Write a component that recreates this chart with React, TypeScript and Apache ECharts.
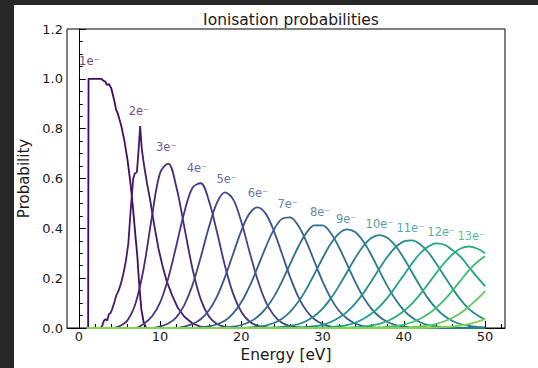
import React, { useEffect, useRef } from "react";
import * as echarts from "echarts";

// ---- data ----
const curveNames = ["1e⁻", "2e⁻", "3e⁻", "4e⁻", "5e⁻", "6e⁻", "7e⁻", "8e⁻", "9e⁻", "10e⁻", "11e⁻", "12e⁻", "13e⁻", "14e⁻", "15e⁻", "16e⁻"];

// 1e- (irregular energies)
const energy1 = [1.15, 1.2, 2.8, 3.0, 3.3, 3.45, 3.7, 4.0, 4.4, 4.6, 4.8, 5.2, 5.6, 6.0, 6.4, 6.7, 7.0, 7.2, 7.4, 7.7, 8.0, 8.3, 50];
const prob1 = [0, 1.0, 1.0, 0.993, 0.988, 0.975, 0.979, 0.962, 0.908, 0.875, 0.861, 0.815, 0.754, 0.674, 0.57, 0.47, 0.36, 0.29, 0.19, 0.075, 0.02, 0, 0];

// 2e- (irregular energies)
const energy2 = [1, 2.7, 2.9, 3.1, 3.3, 3.5, 3.7, 3.9, 4.1, 4.4, 4.6, 4.9, 5.2, 5.5, 5.8, 6.1, 6.4, 6.7, 6.9, 7.15, 7.35, 7.55, 7.75, 8.0, 8.4, 8.8, 9.3, 9.8, 10.3, 10.8, 11.5, 12.2, 13, 14, 15, 16, 50];
const prob2 = [0, 0, 0.01, 0.03, 0.035, 0.03, 0.055, 0.06, 0.075, 0.105, 0.13, 0.15, 0.18, 0.22, 0.27, 0.34, 0.48, 0.6, 0.62, 0.625, 0.71, 0.81, 0.72, 0.66, 0.58, 0.51, 0.41, 0.32, 0.25, 0.19, 0.13, 0.08, 0.045, 0.018, 0.005, 0, 0];

// 3e- .. 16e- on the energy grid 1..50 eV
const energyGrid = [
  1, 2, 3, 4, 5, 6, 7, 8, 9, 10,
  11, 12, 13, 14, 15, 16, 17, 18, 19, 20,
  21, 22, 23, 24, 25, 26, 27, 28, 29, 30,
  31, 32, 33, 34, 35, 36, 37, 38, 39, 40,
  41, 42, 43, 44, 45, 46, 47, 48, 49, 50,
];
const prob3 = [
  0, 0, 0, 0, 0.007, 0.031, 0.1, 0.242, 0.446, 0.622,
  0.66, 0.567, 0.403, 0.237, 0.116, 0.047, 0.016, 0.004, 0, 0,
  0, 0, 0, 0, 0, 0, 0, 0, 0, 0,
  0, 0, 0, 0, 0, 0, 0, 0, 0, 0,
  0, 0, 0, 0, 0, 0, 0, 0, 0, 0,
];
const prob4 = [
  0, 0, 0, 0, 0, 0, 0, 0.017, 0.046, 0.102,
  0.199, 0.33, 0.466, 0.563, 0.581, 0.512, 0.386, 0.248, 0.137, 0.065,
  0.026, 0.009, 0.003, 0, 0, 0, 0, 0, 0, 0,
  0, 0, 0, 0, 0, 0, 0, 0, 0, 0,
  0, 0, 0, 0, 0, 0, 0, 0, 0, 0,
];
const prob5 = [
  0, 0, 0, 0, 0, 0, 0, 0, 0, 0.006,
  0.018, 0.043, 0.093, 0.173, 0.283, 0.403, 0.502, 0.544, 0.516, 0.426,
  0.307, 0.194, 0.106, 0.051, 0.021, 0.008, 0.003, 0, 0, 0,
  0, 0, 0, 0, 0, 0, 0, 0, 0, 0,
  0, 0, 0, 0, 0, 0, 0, 0, 0, 0,
];
const prob6 = [
  0, 0, 0, 0, 0, 0, 0, 0, 0, 0,
  0, 0, 0.006, 0.016, 0.035, 0.07, 0.126, 0.205, 0.298, 0.39,
  0.459, 0.484, 0.459, 0.39, 0.298, 0.205, 0.126, 0.07, 0.035, 0.016,
  0.006, 0.002, 0, 0, 0, 0, 0, 0, 0, 0,
  0, 0, 0, 0, 0, 0, 0, 0, 0, 0,
];
const prob7 = [
  0, 0, 0, 0, 0, 0, 0, 0, 0, 0,
  0, 0, 0, 0, 0.003, 0.006, 0.015, 0.03, 0.059, 0.103,
  0.166, 0.243, 0.324, 0.394, 0.438, 0.444, 0.411, 0.347, 0.267, 0.187,
  0.12, 0.07, 0.038, 0.018, 0.008, 0.003, 0, 0, 0, 0,
  0, 0, 0, 0, 0, 0, 0, 0, 0, 0,
];
const prob8 = [
  0, 0, 0, 0, 0, 0, 0, 0, 0, 0,
  0, 0, 0, 0, 0, 0, 0, 0.002, 0.005, 0.012,
  0.024, 0.045, 0.078, 0.125, 0.186, 0.256, 0.325, 0.381, 0.412, 0.412,
  0.381, 0.325, 0.256, 0.186, 0.125, 0.078, 0.045, 0.024, 0.012, 0.005,
  0.002, 0, 0, 0, 0, 0, 0, 0, 0, 0,
];
const prob9 = [
  0, 0, 0, 0, 0, 0, 0, 0, 0, 0,
  0, 0, 0, 0, 0, 0, 0, 0, 0, 0,
  0.002, 0.005, 0.01, 0.02, 0.037, 0.065, 0.104, 0.156, 0.217, 0.28,
  0.338, 0.379, 0.396, 0.385, 0.348, 0.293, 0.229, 0.167, 0.113, 0.071,
  0.042, 0.023, 0.012, 0.006, 0.003, 0, 0, 0, 0, 0,
];
const prob10 = [
  0, 0, 0, 0, 0, 0, 0, 0, 0, 0,
  0, 0, 0, 0, 0, 0, 0, 0, 0, 0,
  0, 0, 0, 0.002, 0.004, 0.008, 0.015, 0.028, 0.048, 0.078,
  0.118, 0.168, 0.224, 0.28, 0.328, 0.361, 0.373, 0.361, 0.328, 0.28,
  0.224, 0.168, 0.118, 0.078, 0.048, 0.028, 0.015, 0.008, 0.004, 0.002,
];
const prob11 = [
  0, 0, 0, 0, 0, 0, 0, 0, 0, 0,
  0, 0, 0, 0, 0, 0, 0, 0, 0, 0,
  0, 0, 0, 0, 0, 0, 0.002, 0.004, 0.007, 0.013,
  0.024, 0.041, 0.065, 0.098, 0.139, 0.188, 0.239, 0.287, 0.325, 0.348,
  0.352, 0.336, 0.304, 0.258, 0.208, 0.158, 0.113, 0.077, 0.052, 0.034,
];
const prob12 = [
  0, 0, 0, 0, 0, 0, 0, 0, 0, 0,
  0, 0, 0, 0, 0, 0, 0, 0, 0, 0,
  0, 0, 0, 0, 0, 0, 0, 0, 0, 0.002,
  0.003, 0.007, 0.012, 0.021, 0.036, 0.057, 0.086, 0.122, 0.166, 0.213,
  0.259, 0.299, 0.327, 0.34, 0.334, 0.312, 0.285, 0.245, 0.205, 0.168,
];
const prob13 = [
  0, 0, 0, 0, 0, 0, 0, 0, 0, 0,
  0, 0, 0, 0, 0, 0, 0, 0, 0, 0,
  0, 0, 0, 0, 0, 0, 0, 0, 0, 0,
  0, 0, 0.001, 0.003, 0.005, 0.01, 0.017, 0.028, 0.045, 0.068,
  0.098, 0.135, 0.177, 0.221, 0.262, 0.296, 0.319, 0.327, 0.319, 0.3,
];
const prob14 = [
  0, 0, 0, 0, 0, 0, 0, 0, 0, 0,
  0, 0, 0, 0, 0, 0, 0, 0, 0, 0,
  0, 0, 0, 0, 0, 0, 0, 0, 0, 0,
  0, 0, 0, 0, 0, 0.001, 0.002, 0.004, 0.008, 0.014,
  0.023, 0.037, 0.056, 0.082, 0.113, 0.151, 0.191, 0.231, 0.264, 0.288,
];
const prob15 = [
  0, 0, 0, 0, 0, 0, 0, 0, 0, 0,
  0, 0, 0, 0, 0, 0, 0, 0, 0, 0,
  0, 0, 0, 0, 0, 0, 0, 0, 0, 0,
  0, 0, 0, 0, 0, 0, 0, 0, 0, 0,
  0.003, 0.006, 0.01, 0.017, 0.027, 0.041, 0.06, 0.086, 0.115, 0.148,
];
const prob16 = [
  0, 0, 0, 0, 0, 0, 0, 0, 0, 0,
  0, 0, 0, 0, 0, 0, 0, 0, 0, 0,
  0, 0, 0, 0, 0, 0, 0, 0, 0, 0,
  0, 0, 0, 0, 0, 0, 0, 0, 0, 0,
  0, 0, 0.001, 0.002, 0.004, 0.006, 0.01, 0.016, 0.025, 0.036,
];

// curve annotations (energy, probability) for 1e- .. 13e-
const labelEnergy = [1.3, 7.4, 10.75, 14.55, 18.2, 22.05, 25.7, 29.7, 32.9, 37.0, 40.8, 44.6, 48.3];
const labelProb = [1.07, 0.87, 0.726, 0.642, 0.6, 0.542, 0.497, 0.465, 0.437, 0.417, 0.4, 0.385, 0.37];

// axis ticks
const majorX = [0, 10, 20, 30, 40, 50];
const minorX = [2, 4, 6, 8, 12, 14, 16, 18, 22, 24, 26, 28, 32, 34, 36, 38, 42, 44, 46, 48, 52];

// viridis colours, one per curve
const colors = ["#450a5c", "#48186a", "#482878", "#463682", "#414487", "#3b528b", "#355f8d", "#2f6c8e", "#2a788e", "#25858e", "#21918c", "#1fa088", "#28ae80", "#3fbc73", "#5ec962", "#84d44b"];

const FONT = "DejaVu Sans";

export default function App() {
  const ref = useRef<HTMLDivElement>(null);
  useEffect(() => {
    document.body.style.margin = "0";
    const chart = echarts.init(ref.current!, null, { renderer: "svg" });

    const gridProbs = [prob3, prob4, prob5, prob6, prob7, prob8, prob9, prob10, prob11, prob12, prob13, prob14, prob15, prob16];
    const curves: { data: number[][]; smooth: number | boolean }[] = [
      { data: energy1.map((e, i) => [e, prob1[i]]), smooth: false },
      { data: energy2.map((e, i) => [e, prob2[i]]), smooth: false },
      ...gridProbs.map((p) => ({ data: energyGrid.map((e, i) => [e, p[i]]), smooth: 0.35 })),
    ];

    const lineSeries = curves.map((c, i) => ({
      type: "line",
      name: curveNames[i],
      data: c.data,
      smooth: c.smooth,
      showSymbol: false,
      symbol: "none",
      lineStyle: { color: colors[i], width: 1.8 },
      itemStyle: { color: colors[i] },
      z: 2,
    }));

    const labelSeries = {
      type: "scatter",
      symbolSize: 0,
      z: 5,
      data: labelEnergy.map((e, i) => ({
        value: [e, labelProb[i]],
        label: { color: colors[i] },
      })),
      label: {
        show: true,
        position: "inside",
        fontSize: 11.5,
        fontFamily: FONT,
        formatter: (p: any) => curveNames[p.dataIndex],
      },
    };

    chart.setOption({
      animation: false,
      backgroundColor: "transparent",
      textStyle: { fontFamily: FONT },
      title: {
        text: "Ionisation probabilities",
        left: 286,
        top: 7,
        textAlign: "center",
        textStyle: { fontSize: 15.5, fontWeight: "normal", color: "#1a1a1a", fontFamily: FONT },
      },
      grid: {
        left: 67,
        top: 29,
        right: 33,
        bottom: 40,
        containLabel: false,
        show: true,
        borderColor: "#000",
        borderWidth: 1,
        backgroundColor: "transparent",
      },
      xAxis: [
        {
          type: "value",
          position: "bottom",
          min: -1.45,
          max: 52.45,
          axisLine: { show: true, lineStyle: { color: "#000", width: 1 } },
          axisTick: { show: true, inside: true, length: 7, customValues: majorX, lineStyle: { color: "#000", width: 1 } },
          axisLabel: { show: true, customValues: majorX, color: "#1a1a1a", fontSize: 13, fontFamily: FONT, margin: 2 },
          splitLine: { show: false },
          name: "Energy [eV]",
          nameLocation: "middle",
          nameGap: 18,
          nameTextStyle: { fontSize: 15.4, color: "#1a1a1a", fontFamily: FONT, verticalAlign: "top" },
        },
        {
          type: "value",
          position: "bottom",
          min: -1.45,
          max: 52.45,
          axisLine: { show: false },
          axisTick: { show: true, inside: true, length: 4, customValues: minorX, lineStyle: { color: "#000", width: 1 } },
          axisLabel: { show: false },
          splitLine: { show: false },
        },
      ],
      yAxis: {
        type: "value",
        min: 0,
        max: 1.2,
        interval: 0.2,
        axisLine: { show: true, lineStyle: { color: "#000", width: 1 } },
        axisTick: { show: true, inside: true, length: 7, lineStyle: { color: "#000", width: 1 } },
        minorTick: { show: true, splitNumber: 4, length: 4, lineStyle: { color: "#000", width: 1 } },
        axisLabel: { color: "#1a1a1a", fontSize: 13, fontFamily: FONT, margin: 4, formatter: (v: number) => v.toFixed(1) },
        splitLine: { show: false },
        minorSplitLine: { show: false },
        name: "Probability",
        nameLocation: "middle",
        nameGap: 28,
        nameRotate: 90,
        nameTextStyle: { fontSize: 15, color: "#1a1a1a", fontFamily: FONT },
      },
      series: [...lineSeries, labelSeries],
    });
    return () => chart.dispose();
  }, []);

  return (
    <div style={{ position: "relative", width: 538, height: 368, background: "#272727", overflow: "hidden" }}>
      <div style={{ position: "absolute", left: 14, top: 5, width: 524, height: 363, background: "#ffffff" }} />
      <div ref={ref} style={{ position: "absolute", left: 0, top: 0, width: 538, height: 368 }} />
    </div>
  );
}
